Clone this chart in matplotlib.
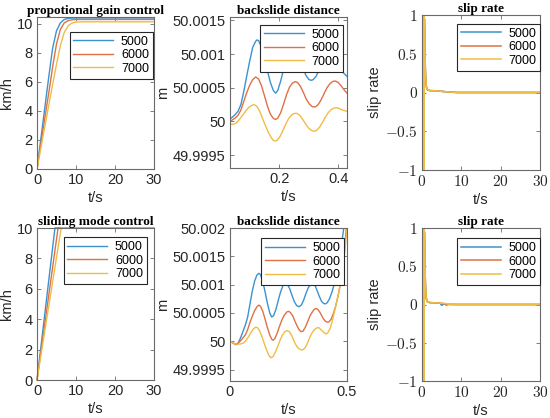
import numpy as np
import matplotlib
matplotlib.use("Agg")
import matplotlib.pyplot as plt
from matplotlib.ticker import FuncFormatter

plt.rcParams['font.family'] = ['Liberation Sans', 'DejaVu Sans']
plt.rcParams['mathtext.fontset'] = 'cm'

labels = ['5000', '6000', '7000']
colors = ['#3a93cf', '#de7146', '#efbd45']

# speed, proportional gain control
pg_t = [0, 1, 2, 3, 4, 5, 6, 7, 8, 9, 10, 12, 15, 30]
pg_5000 = [0, 2.1, 4.2, 6.3, 8.3, 9.5, 10.05, 10.28, 10.35, 10.38, 10.38, 10.38, 10.38, 10.38]
pg_6000 = [0, 1.75, 3.5, 5.2, 7.0, 8.6, 9.6, 10.05, 10.2, 10.26, 10.28, 10.28, 10.28, 10.28]
pg_7000 = [0, 1.45, 2.9, 4.35, 5.8, 7.2, 8.5, 9.4, 9.85, 10.04, 10.1, 10.12, 10.12, 10.12]

# speed, sliding mode control
smc_t5000 = [0, 4.6, 30]
smc_t6000 = [0, 5.4, 30]
smc_t7000 = [0, 6.2, 30]
smc_v = [0, 10, 10]

# backslide distance, proportional gain control (offset from 50 m, in 1e-4 m)
bs1_t5000 = [0, 0.03, 0.04, 0.05, 0.06, 0.07, 0.08, 0.09, 0.10, 0.11, 0.12, 0.125, 0.13, 0.14,
             0.15, 0.16, 0.17, 0.18, 0.188, 0.195, 0.205, 0.215, 0.225, 0.235, 0.245, 0.252,
             0.26, 0.27, 0.28, 0.29, 0.30, 0.308, 0.315, 0.325, 0.335, 0.345, 0.355, 0.365,
             0.372, 0.38, 0.39, 0.40, 0.41, 0.42, 0.43]
bs1_5000 = [0, 0.3, 0.6, 1.0, 1.5, 2.5, 4.5, 6.8, 9.0, 11.0, 11.9, 12.1, 12.0, 11.0,
            9.4, 7.5, 5.8, 4.6, 4.2, 4.6, 6.0, 7.8, 9.5, 10.5, 11.0, 11.05,
            10.6, 9.4, 8.0, 6.9, 6.25, 6.1, 6.2, 6.7, 7.6, 8.7, 9.7, 10.4,
            10.55, 10.4, 9.8, 8.9, 7.9, 7.1, 6.7]
bs1_t6000 = [0, 0.03, 0.04, 0.05, 0.06, 0.07, 0.08, 0.09, 0.10, 0.11, 0.12, 0.13, 0.14, 0.15,
             0.16, 0.17, 0.18, 0.188, 0.195, 0.205, 0.215, 0.225, 0.235, 0.245, 0.254, 0.262,
             0.272, 0.282, 0.292, 0.302, 0.312, 0.322, 0.332, 0.342, 0.352, 0.362, 0.372,
             0.382, 0.39, 0.40, 0.41, 0.42, 0.43]
bs1_6000 = [0, 0.0, 0.2, 0.5, 0.9, 1.7, 3.0, 4.3, 5.4, 6.2, 6.6, 6.3, 5.3, 3.8,
            2.3, 1.1, 0.45, 0.3, 0.5, 1.3, 2.6, 4.0, 5.1, 5.7, 5.9, 5.8,
            5.2, 4.3, 3.3, 2.6, 2.2, 2.15, 2.5, 3.2, 4.1, 5.0, 5.6,
            5.95, 6.0, 5.8, 5.3, 4.7, 4.2]
bs1_t7000 = [0, 0.03, 0.045, 0.055, 0.065, 0.077, 0.087, 0.097, 0.107, 0.115, 0.123, 0.133,
             0.143, 0.153, 0.163, 0.173, 0.18, 0.186, 0.193, 0.203, 0.213, 0.223, 0.233, 0.243,
             0.252, 0.26, 0.27, 0.28, 0.29, 0.30, 0.31, 0.318, 0.326, 0.336, 0.346, 0.356,
             0.366, 0.376, 0.386, 0.395, 0.405, 0.415, 0.43]
bs1_7000 = [0, -0.4, -0.4, -0.2, 0.3, 1.0, 1.6, 2.1, 2.4, 2.5, 2.3, 1.6,
            0.5, -0.6, -1.6, -2.4, -2.8, -2.9, -2.8, -2.2, -1.3, -0.3, 0.5, 1.0,
            1.2, 1.2, 0.9, 0.3, -0.4, -1.0, -1.35, -1.45, -1.35, -0.9, -0.2, 0.6,
            1.3, 1.75, 2.0, 2.05, 1.9, 1.7, 1.5]

# backslide distance, sliding mode control
bs2_t5000 = [0, 0.01, 0.02, 0.027, 0.035, 0.045, 0.055, 0.065, 0.075, 0.085, 0.095, 0.105,
             0.115, 0.123, 0.13, 0.14, 0.15, 0.16, 0.17, 0.178, 0.186, 0.196, 0.206, 0.216,
             0.226, 0.236, 0.245, 0.255, 0.265, 0.275, 0.285, 0.295, 0.305, 0.315, 0.325,
             0.335, 0.345, 0.353, 0.362, 0.372, 0.382, 0.392, 0.40, 0.407, 0.415, 0.425,
             0.435, 0.445, 0.455, 0.465, 0.475, 0.485, 0.495, 0.505]
bs2_5000 = [0, -0.2, -0.5, -0.6, -0.3, 0.6, 1.7, 2.8, 4.2, 6.5, 8.8, 10.6,
            11.7, 12.0, 11.8, 10.6, 8.7, 6.7, 5.0, 4.3, 4.5, 5.6, 7.2, 8.7,
            9.8, 10.3, 10.1, 9.3, 8.1, 7.0, 6.3, 6.1, 6.4, 7.3, 8.5,
            9.5, 10.1, 10.3, 10.0, 9.0, 7.9, 7.0, 6.7, 6.6, 6.8, 7.5,
            8.6, 10.0, 11.4, 13.6, 16.6, 19.6, 23.5, 28.0]
bs2_t6000 = [0, 0.01, 0.02, 0.027, 0.035, 0.045, 0.055, 0.065, 0.075, 0.085, 0.095, 0.105,
             0.115, 0.123, 0.13, 0.14, 0.15, 0.16, 0.17, 0.178, 0.184, 0.192, 0.202, 0.212,
             0.222, 0.232, 0.242, 0.25, 0.258, 0.268, 0.278, 0.288, 0.296, 0.304, 0.312,
             0.322, 0.332, 0.342, 0.352, 0.36, 0.368, 0.376, 0.386, 0.396, 0.406, 0.414,
             0.422, 0.432, 0.442, 0.452, 0.462, 0.472, 0.482, 0.49, 0.497, 0.51]
bs2_6000 = [0, -0.2, -0.45, -0.5, -0.3, 0.1, 0.6, 1.1, 2.0, 3.3, 4.4, 5.4,
            6.1, 6.4, 6.2, 5.3, 3.9, 2.4, 1.1, 0.4, 0.2, 0.5, 1.5, 2.7,
            3.8, 4.6, 5.15, 5.3, 5.1, 4.5, 3.5, 2.6, 2.0, 1.7, 1.8,
            2.5, 3.5, 4.5, 5.2, 5.65, 5.8, 5.6, 5.0, 4.2, 3.6, 3.4,
            3.4, 3.9, 4.9, 6.3, 8.0, 10.3, 13.3, 16.5, 20.0, 26.0]
bs2_t7000 = [0, 0.01, 0.0215, 0.035, 0.047, 0.057, 0.067, 0.079, 0.09, 0.10, 0.11, 0.118,
             0.126, 0.135, 0.145, 0.155, 0.165, 0.175, 0.184, 0.194, 0.204, 0.214, 0.224,
             0.234, 0.244, 0.254, 0.264, 0.274, 0.284, 0.294, 0.304, 0.312, 0.322, 0.332,
             0.342, 0.352, 0.362, 0.372, 0.38, 0.39, 0.40, 0.41, 0.418, 0.428, 0.438, 0.448,
             0.458, 0.468, 0.478, 0.488, 0.50]
bs2_7000 = [0.1, -0.2, -0.5, -0.5, -0.45, -0.3, 0.1, 0.8, 1.6, 2.2, 2.5, 2.4,
            1.9, 1.0, -0.2, -1.4, -2.4, -2.9, -2.7, -1.9, -0.9, 0.2, 1.1,
            1.7, 1.9, 1.7, 1.0, 0.0, -0.8, -1.3, -1.5, -1.5, -1.1, -0.2,
            0.8, 1.6, 2.1, 2.4, 2.4, 2.0, 1.6, 1.3, 1.5, 2.3, 3.7, 5.5,
            7.4, 9.3, 11.7, 14.8, 20.0]

# slip rate
sr_t = [0, 0.06, 0.12, 0.18, 0.24, 0.3, 0.36, 0.42, 0.48, 0.54, 0.6, 0.75, 0.9, 1.1, 1.3,
        1.6, 2, 4, 6, 9, 15, 30]
sr_5000 = [1, -1, 1, -1, 1, -1, 1, -1, 1, -1, 0.95, 0.5, 0.22, 0.08, 0.04,
           0.03, 0.025, 0.02, 0.01, 0.0, 0.0, 0.0]
sr_6000 = [1, -1, 1, -1, 1, -1, 1, -1, 1, -1, 0.95, 0.5, 0.22, 0.08, 0.04,
           0.03, 0.025, 0.02, 0.01, 0.0, 0.0, 0.0]
sr_7000 = [1, -1, 1, -1, 1, -1, 1, -1, 1, -1, 0.95, 0.5, 0.22, 0.08, 0.04,
           0.03, 0.025, 0.02, 0.01, 0.0, 0.0, 0.0]
sr2_t = [0, 0.06, 0.12, 0.18, 0.24, 0.3, 0.36, 0.42, 0.48, 0.54, 0.6, 0.75, 0.9, 1.1, 1.3,
         1.6, 2, 4, 4.6, 5.0, 5.6, 6.2, 6.6, 9, 15, 30]
sr2_5000 = [1, -1, 1, -1, 1, -1, 1, -1, 1, -1, 0.95, 0.5, 0.22, 0.08, 0.04,
            0.03, 0.025, 0.02, 0.015, -0.01, 0.005, 0.005, 0.0, 0.0, 0.0, 0.0]
sr2_6000 = [1, -1, 1, -1, 1, -1, 1, -1, 1, -1, 0.95, 0.5, 0.22, 0.08, 0.04,
            0.03, 0.025, 0.02, 0.018, 0.015, 0.012, -0.01, 0.003, 0.0, 0.0, 0.0]
sr2_7000 = [1, -1, 1, -1, 1, -1, 1, -1, 1, -1, 0.95, 0.5, 0.22, 0.08, 0.04,
            0.03, 0.025, 0.02, 0.018, 0.016, 0.014, 0.012, 0.005, 0.0, 0.0, 0.0]

fig = plt.figure(figsize=(5.5, 4.18), dpi=100)
W, H = 550, 418


def make_ax(x0, x1, y0, y1):
    return fig.add_axes([x0 / W, 1 - y1 / H, (x1 - x0) / W, (y1 - y0) / H])


def style(ax, title, ylab):
    for s in ax.spines.values():
        s.set_color('#6a6a6a')
        s.set_linewidth(0.8)
    ax.tick_params(direction='in', top=True, right=True, length=3, width=0.6,
                   color='#6a6a6a', labelcolor='#262626', labelsize=10.5, pad=3)
    ax.set_title(title, family=['Liberation Serif', 'DejaVu Serif'], fontweight='bold',
                 fontsize=9.5, pad=2)
    ax.set_xlabel('t/s', fontsize=10.5, color='#262626', labelpad=3)
    ax.set_ylabel(ylab, fontsize=10.5, color='#262626', labelpad=2)


def legend(ax, fx, fy):
    leg = ax.legend(labels, loc='upper right', bbox_to_anchor=(fx / W, 1 - fy / H),
                    bbox_transform=fig.transFigure, fontsize=9, frameon=True,
                    fancybox=False, framealpha=1, edgecolor='#262626',
                    handlelength=3.2, handletextpad=0.6, labelspacing=0.12,
                    borderpad=0.3, borderaxespad=0)
    leg.get_frame().set_linewidth(0.8)


gfmt = FuncFormatter(lambda v, p: '%g' % round(v, 6))
mfmt = FuncFormatter(lambda v, p: r'$%g$' % round(v, 6))

# top-left
ax = make_ax(37, 154, 17, 169)
for t, v, c in zip([pg_t] * 3, [pg_5000, pg_6000, pg_7000], colors):
    ax.plot(t, v, color=c, lw=1)
ax.set_xlim(0, 30)
ax.set_ylim(0, 10.45)
ax.set_xticks([0, 10, 20, 30])
ax.set_yticks([0, 2, 4, 6, 8, 10])
style(ax, 'propotional gain control', 'km/h')
legend(ax, 152.7, 32)

# bottom-left
ax = make_ax(37, 154, 228, 380)
for t, c in zip([smc_t5000, smc_t6000, smc_t7000], colors):
    ax.plot(t, smc_v, color=c, lw=1, clip_on=False)
ax.set_xlim(0, 30)
ax.set_ylim(0, 10)
ax.set_xticks([0, 10, 20, 30])
ax.set_yticks([0, 2, 4, 6, 8, 10])
style(ax, 'sliding mode control', 'km/h')
legend(ax, 146.7, 237.3)

# top-middle
ax = make_ax(230, 347, 17, 168)
for t, v, c in zip([bs1_t5000, bs1_t6000, bs1_t7000], [bs1_5000, bs1_6000, bs1_7000], colors):
    ax.plot(t, 50 + np.array(v) * 1e-4, color=c, lw=1)
ax.set_xlim(0.033, 0.43)
ax.set_ylim(49.99931, 50.00155)
ax.set_xticks([0.2, 0.4])
ax.set_yticks([49.9995, 50, 50.0005, 50.001, 50.0015])
ax.yaxis.set_major_formatter(gfmt)
ax.xaxis.set_major_formatter(gfmt)
style(ax, 'backslide distance', 'm')
legend(ax, 343.3, 25)

# bottom-middle
ax = make_ax(230, 347, 228, 381)
for t, v, c in zip([bs2_t5000, bs2_t6000, bs2_t7000], [bs2_5000, bs2_6000, bs2_7000], colors):
    ax.plot(t, 50 + np.array(v) * 1e-4, color=c, lw=1)
ax.set_xlim(0, 0.5)
ax.set_ylim(49.9993, 50.002)
ax.set_xticks([0, 0.5])
ax.set_yticks([49.9995, 50, 50.0005, 50.001, 50.0015, 50.002])
ax.yaxis.set_major_formatter(gfmt)
ax.xaxis.set_major_formatter(gfmt)
style(ax, 'backslide distance', 'm')
legend(ax, 344, 238.3)

# slip rate panels
for (y0, y1), tt, series, fy in [((15, 170), sr_t, [sr_5000, sr_6000, sr_7000], 24),
                                 ((228, 381), sr2_t, [sr2_5000, sr2_6000, sr2_7000], 238.3)]:
    ax = make_ax(422, 540, y0, y1)
    for v, c in zip(series, colors):
        ax.plot(tt, v, color=c, lw=1.1)
    ax.set_xlim(0, 30)
    ax.set_ylim(-1, 1)
    ax.set_xticks([0, 10, 20, 30])
    ax.set_yticks([-1, -0.5, 0, 0.5, 1])
    ax.xaxis.set_major_formatter(mfmt)
    ax.yaxis.set_major_formatter(mfmt)
    style(ax, 'slip rate', 'slip rate')
    ax.tick_params(labelsize=11)
    legend(ax, 540, fy)

fig.savefig('out.png', dpi=100)
